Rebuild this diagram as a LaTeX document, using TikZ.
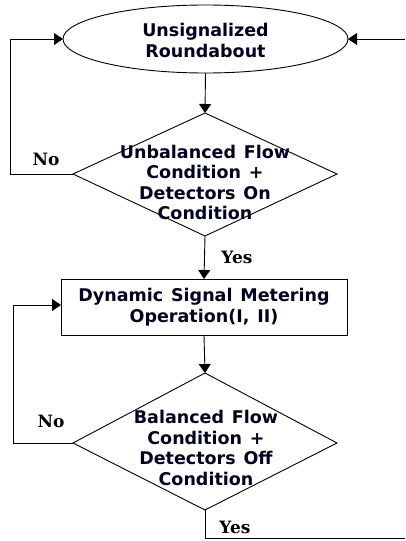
\documentclass[tikz,border=0pt]{standalone}
\usepackage{fontspec}
\setmainfont{DejaVu Sans}
\newfontfamily\lblfont{DejaVu Serif}
\usetikzlibrary{shapes.geometric,arrows.meta}
\newcommand\mywsp{\spaceskip=0.45em plus 0.1em\relax}
\begin{document}
\begin{tikzpicture}[x=1pt,y=-1pt,
  every node/.style={inner sep=0pt,outer sep=0pt},
  line/.style={draw=black,line width=0.9pt},
  arr/.style={line,-{Triangle[length=9pt,width=12pt]}},
  txt/.style={font=\fontsize{17.5}{20.5}\selectfont\bfseries\mywsp,align=center,text=black!88!blue},
  lbl/.style={font=\fontsize{17}{18}\selectfont\lblfont\bfseries,text=black}]
\useasboundingbox (0,0) rectangle (405,541);
% shapes
\draw[line] (205.5,39) ellipse [x radius=142.5, y radius=34];
\coordinate (e) at (205.5,39);
\coordinate (ebot) at (205.5,73);
\coordinate (eleft) at (63,39);
\coordinate (eright) at (348,39);
\node[txt] at (205.5,40.5) {Unsignalized\\Roundabout};

\coordinate (d1t) at (205,113);
\coordinate (d1b) at (205,236);
\coordinate (d1l) at (73,174);
\coordinate (d1r) at (337,174);
\draw[line] (d1t) -- (d1r) -- (d1b) -- (d1l) -- cycle;
\node[txt] (d1) at (205,182.5) {Unbalanced Flow\\Condition +\\Detectors On\\Condition};

\node[draw=black,line width=0.9pt,minimum width=286pt,minimum height=56pt,anchor=north west] (r) at (61,279) {};
\node[txt] at (204,307) {Dynamic Signal Metering\\Operation(I, II)};

\coordinate (d2t) at (205,373);
\coordinate (d2b) at (205,510);
\coordinate (d2l) at (73,443);
\coordinate (d2r) at (337,443);
\draw[line] (d2t) -- (d2r) -- (d2b) -- (d2l) -- cycle;
\node[txt] (d2) at (206,448) {Balanced Flow\\Condition +\\Detectors Off\\Condition};

% connectors
\draw[arr] (ebot) -- (d1t);
\draw[arr] (d1b) -- (r.north);
\draw[arr] (r.south) -- (d2t);
\coordinate (l1) at (10,174);
\coordinate (l1t) at (10,39);
\draw[arr] (d1l) -- (l1) -- (l1t) -- (eleft);
\coordinate (l2) at (13,443);
\coordinate (l2t) at (13,305);
\draw[arr] (d2l) -- (l2) -- (l2t) -- (r.west |- l2t);
\coordinate (rin) at (405,39);
\draw[arr] (rin) -- (eright);
\coordinate (bc) at (205,538);
\coordinate (bend) at (405,538);
\draw[line] (d2b) -- (bc) -- (bend);
% labels
\node[lbl] at (46,159) {No};
\node[lbl] at (237,257) {Yes};
\node[lbl] at (51,421) {No};
\node[lbl] at (235,527) {Yes};
\end{tikzpicture}
\end{document}
